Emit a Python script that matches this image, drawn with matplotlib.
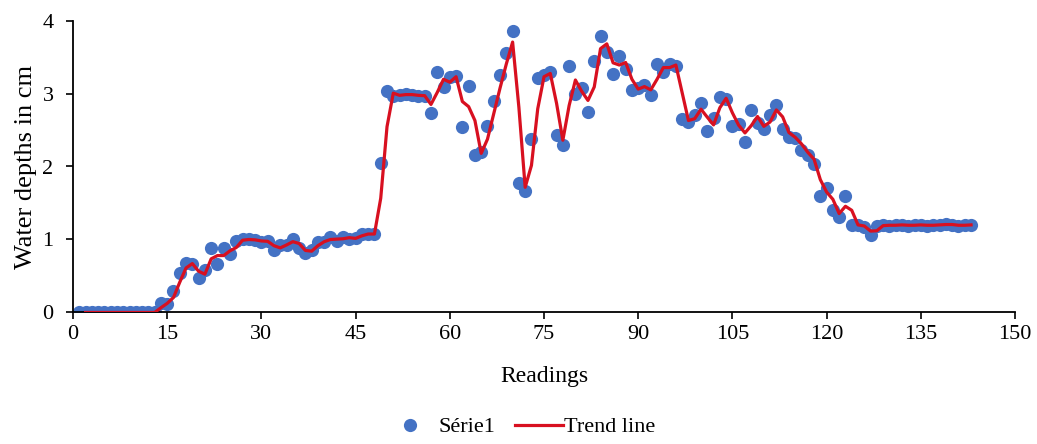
import numpy as np
import matplotlib.pyplot as plt

plt.rcParams['font.family'] = ['Liberation Serif', 'DejaVu Serif']

readings = list(range(1, 144))
depths = [0.0] * 13 + [
    0.13, 0.12, 0.29, 0.54, 0.68, 0.66, 0.47, 0.58, 0.89, 0.67,
    0.89, 0.80, 0.98, 1.00, 1.00, 0.99, 0.97, 0.98, 0.85, 0.92,
    0.93, 1.01, 0.88, 0.82, 0.86, 0.97, 0.97, 1.03, 0.98, 1.04,
    1.01, 1.02, 1.08, 1.07, 1.08, 2.05, 3.04, 2.97, 2.98, 2.99,
    2.98, 2.97, 2.97, 2.73, 3.30, 3.09, 3.22, 3.24, 2.54, 3.10,
    2.16, 2.20, 2.55, 2.90, 3.25, 3.56, 3.85, 1.77, 1.66, 2.37,
    3.21, 3.25, 3.30, 2.43, 2.29, 3.38, 2.99, 3.07, 2.74, 3.44,
    3.79, 3.57, 3.27, 3.51, 3.34, 3.05, 3.07, 3.12, 2.98, 3.41,
    3.30, 3.41, 3.37, 2.65, 2.61, 2.70, 2.87, 2.48, 2.66, 2.95,
    2.92, 2.55, 2.58, 2.34, 2.78, 2.59, 2.51, 2.71, 2.84, 2.52,
    2.41, 2.39, 2.23, 2.16, 2.04, 1.60, 1.70, 1.40, 1.31, 1.60,
    1.20, 1.20, 1.17, 1.06, 1.18, 1.20, 1.19, 1.20, 1.20, 1.19,
    1.20, 1.20, 1.19, 1.20, 1.20, 1.21, 1.20, 1.19, 1.20, 1.20,
]
x_ticks = list(range(0, 151, 15))
y_ticks = [0, 1, 2, 3, 4]

# two-period moving average, like the Excel trend line
x = np.array(readings)
y = np.array(depths)
trend = (y[1:] + y[:-1]) / 2

fig = plt.figure(figsize=(10.37, 4.44), dpi=100)
ax = fig.add_axes([0.0704, 0.2962, 0.9084, 0.6576])

pts, = ax.plot(x, y, 'o', color='#4472C4', markersize=9.5, markeredgewidth=0,
               label='Série1', zorder=2)
line, = ax.plot(x[1:], trend, '-', color='#D81020', linewidth=2.3,
                label='Trend line', zorder=3)

ax.set_xlim(0, 150)
ax.set_ylim(0, 4)
ax.set_xticks(x_ticks)
ax.set_yticks(y_ticks)
ax.tick_params(direction='out', length=5, width=1.2, labelsize=16, colors='black')
ax.tick_params(axis='y', pad=9)
ax.tick_params(axis='x', pad=4)
for side in ['top', 'right']:
    ax.spines[side].set_visible(False)
for side in ['left', 'bottom']:
    ax.spines[side].set_linewidth(1.3)
    ax.spines[side].set_color('black')

ax.set_xlabel('Readings', fontsize=17, labelpad=16)
ax.set_ylabel('Water depths in cm', fontsize=19, labelpad=4)

# two legends so the marker and the line get their own handle widths
leg1 = fig.legend([pts], ['Série1'], loc='center left', bbox_to_anchor=(0.389, 0.038),
                  frameon=False, fontsize=16, handlelength=0.6, handletextpad=0.96,
                  borderpad=0, borderaxespad=0)
leg2 = fig.legend([line], ['Trend line'], loc='center left', bbox_to_anchor=(0.4966, 0.038),
                  frameon=False, fontsize=16, handlelength=2.16, handletextpad=0.05,
                  borderpad=0, borderaxespad=0)

fig.savefig('out.png', dpi=100)
